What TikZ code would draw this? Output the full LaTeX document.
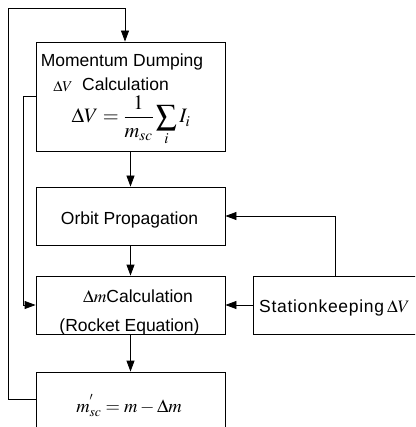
\documentclass[tikz,border=0pt]{standalone}
\usepackage{mathptmx}
\usepackage[no-math]{fontspec}
\setmainfont{Liberation Sans}
\usetikzlibrary{arrows.meta}
\begin{document}
\begin{tikzpicture}[x=1pt,y=-1pt,
  every node/.style={font=\fontsize{17.5}{21}\selectfont},
  box/.style={draw,line width=0.8pt,inner sep=0pt,minimum width=189pt},
  txt/.style={inner sep=0pt,anchor=base},
  conn/.style={line width=0.8pt},
  arr/.style={line width=0.8pt,-{Triangle[length=11pt,width=8pt]}}]
\useasboundingbox (0,0) rectangle (415,427);
\clip (0,0) rectangle (415,427);
% boxes
\node[box,minimum height=109pt] (b1) at (130.5,96.5) {};
\node[box,minimum height=58pt] (b2) at (130.5,216) {};
\node[box,minimum height=58pt] (b3) at (130.5,305) {};
\node[box,minimum height=80pt] (b4) at (130.5,412) {};
\node[box,minimum width=190pt,minimum height=58pt] (sk) at (348,305) {};
% texts
\node[txt] (t1) at (122,67) {Momentum Dumping};
\node[txt,font=\fontsize{15}{17}\selectfont] (t2a) at (63,92) {$\Delta V$};
\node[txt,anchor=base west] (t2b) at (82,91) {Calculation};
\node[txt,font=\fontsize{20.5}{24}\selectfont] (eq) at (131,123) {$\displaystyle \Delta V=\frac{1}{m_{sc}}\sum_i I_i$};
\node[txt] (t3) at (129.5,224) {Orbit Propagation};
\node[txt] (t4) at (138,302) {$\Delta m$Calculation};
\node[txt] (t5) at (129.5,331) {(Rocket Equation)};
\node[txt,anchor=base west] (t6) at (259,312) {\addfontfeatures{LetterSpace=4}Stationkeeping\hspace{3pt}$\Delta V$};
\node[txt,font=\fontsize{18.5}{22}\selectfont] (t7) at (129,412) {$m_{sc}^{'}=m-\Delta m$};
% connectors
\coordinate (c1) at (8,8);
\coordinate (c2) at (23,96);
\coordinate (c3) at (335,216);
\draw[arr] (b4.west |- 0,399) -| (c1) -| (b1.north -| 125,0);
\draw[arr] (b1.south) -- (b2.north);
\draw[arr] (b2.south) -- (b3.north);
\draw[arr] (b3.south) -- (b4.north);
\draw[arr] (b1.west |- c2) -- (c2) |- (b3.west);
\draw[arr] (sk.north -| c3) |- (b2.east);
\draw[arr] (sk.west) -- (b3.east);
\end{tikzpicture}
\end{document}
